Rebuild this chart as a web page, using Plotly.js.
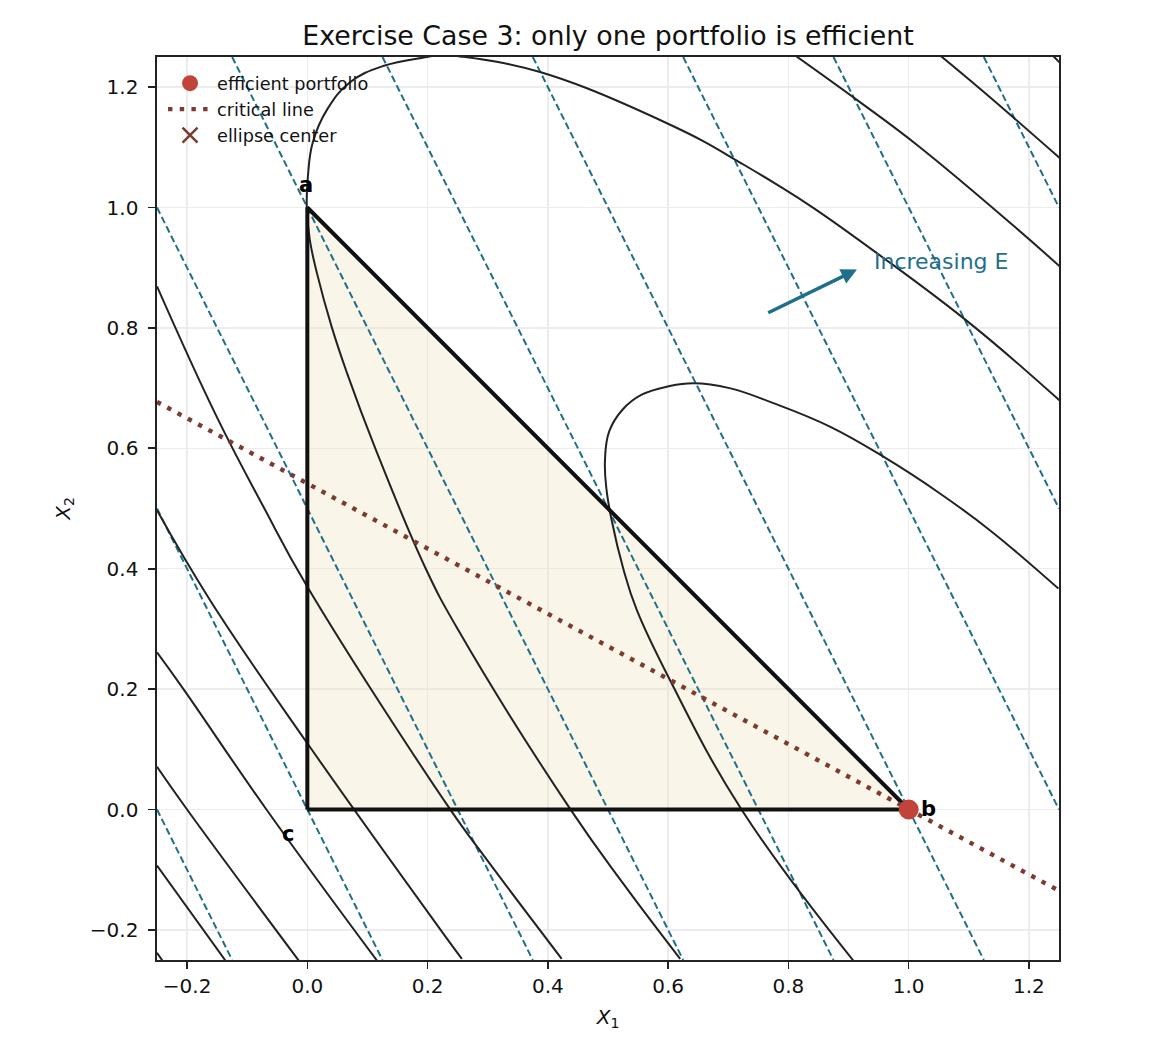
<!DOCTYPE html>
<html>
<head>
<meta charset="utf-8">
<script src="https://cdn.plot.ly/plotly-3.0.1.min.js"></script>
<style>
  html, body { margin: 0; padding: 0; background: #ffffff; }
  #chart { width: 1152px; height: 1056px; }
</style>
</head>
<body>
<div id="chart"></div>
<script>
// Tick labels
var tickVals = [-0.2, 0.0, 0.2, 0.4, 0.6, 0.8, 1.0, 1.2];
var tickText = ['\u22120.2', '0.0', '0.2', '0.4', '0.6', '0.8', '1.0', '1.2'];

// Feasible set (triangle a-b-c)
var triangleX = [0, 1, 0, 0];
var triangleY = [0, 0, 1, 0];

// Iso-E lines (dashed), read at the edges of the plot
var isoStartX = [-0.25, -0.25, -0.25, -0.125, 0.125, 0.375, 0.625, 0.875, 1.125];
var isoStartY = [0.0, 0.5, 1.0, 1.25, 1.25, 1.25, 1.25, 1.25, 1.25];
var isoEndX = [-0.125, 0.125, 0.375, 0.625, 0.875, 1.125, 1.25, 1.25, 1.25];
var isoEndY = [-0.25, -0.25, -0.25, -0.25, -0.25, -0.25, 0.0, 0.5, 1.0];

// Iso-variance curves, points
var curve1X = [-0.25, -0.239];
var curve1Y = [-0.238, -0.254];
var curve2X = [-0.25, -0.134];
var curve2Y = [-0.093, -0.254];
var curve3X = [-0.25, -0.200, -0.012];
var curve3Y = [0.071, 0.0, -0.254];
var curve4X = [-0.25, -0.206, -0.068, 0.118];
var curve4Y = [0.261, 0.2, 0.0, -0.254];
var curve5X = [-0.25, -0.162, 0.0, 0.221, 0.257];
var curve5Y = [0.497, 0.348, 0.110, -0.199, -0.248];
var curve6X = [-0.25, -0.151, -0.073, 0.0, 0.237, 0.287, 0.423];
var curve6Y = [0.869, 0.653, 0.503, 0.370, 0.001, -0.068, -0.248];
var outerX = [0.620, 0.526, 0.437, 0.251, 0.197, 0.113, 0.066, 0.041, 0.016, 0.004, -0.001,
              0.001, 0.009, 0.033, 0.071, 0.126, 0.199, 0.225, 0.254, 0.326, 0.387, 0.465, 0.598,
              0.659, 0.714, 0.781, 0.842, 0.946, 1.105, 1.257];
var outerY = [-0.248, -0.124, 0.001, 0.298, 0.400, 0.600, 0.725, 0.800, 0.891, 0.947, 1.002,
              1.052, 1.108, 1.163, 1.208, 1.235, 1.250, 1.254, 1.251, 1.240, 1.225, 1.198, 1.140,
              1.110, 1.078, 1.038, 0.999, 0.925, 0.805, 0.674];
var innerX = [0.908, 0.722, 0.603, 0.548, 0.526, 0.506, 0.497, 0.495, 0.502, 0.524, 0.556, 0.601,
              0.642, 0.702, 0.775, 0.869, 0.958, 1.052, 1.135, 1.249];
var innerY = [-0.251, 0.0, 0.215, 0.331, 0.398, 0.481, 0.536, 0.581, 0.628, 0.664, 0.689, 0.703,
              0.708, 0.700, 0.675, 0.636, 0.586, 0.525, 0.464, 0.367];
var upper1X = [0.812, 0.919, 1.015, 1.174, 1.257];
var upper1Y = [1.252, 1.175, 1.103, 0.970, 0.897];
var upper2X = [1.053, 1.126, 1.257];
var upper2Y = [1.252, 1.191, 1.077];
var upper3X = [1.240, 1.257];
var upper3Y = [1.252, 1.235];

// Critical line, efficient portfolio, ellipse center (off the visible area)
var criticalX = [-0.25, 1.25];
var criticalY = [0.677, -0.135];
var efficientX = [1.0];
var efficientY = [0.0];
var centerX = [1.36];
var centerY = [-0.195];

var TEAL = '#1f6f8b';
var BROWN = '#7b3b2e';
var RED = '#c0443a';
var FONT = 'DejaVu Sans, Liberation Sans, sans-serif';

var data = [];

data.push({
    x: triangleX, y: triangleY,
    mode: 'lines', fill: 'toself',
    fillcolor: 'rgba(235, 222, 180, 0.3)',
    line: { width: 0 },
    showlegend: false, hoverinfo: 'skip'
});

// join the iso-E segments into one trace separated by gaps
var isoX = [], isoY = [];
for (var i = 0; i < isoStartX.length; i++) {
    isoX.push(isoStartX[i], isoEndX[i], null);
    isoY.push(isoStartY[i], isoEndY[i], null);
}
data.push({
    x: isoX, y: isoY, mode: 'lines',
    line: { color: TEAL, width: 2, dash: '7px,3.5px' },
    showlegend: false, hoverinfo: 'skip'
});

var curves = [
    [curve1X, curve1Y], [curve2X, curve2Y], [curve3X, curve3Y], [curve4X, curve4Y],
    [curve5X, curve5Y], [curve6X, curve6Y], [outerX, outerY], [innerX, innerY],
    [upper1X, upper1Y], [upper2X, upper2Y], [upper3X, upper3Y]
];
curves.forEach(function (c) {
    data.push({
        x: c[0], y: c[1], mode: 'lines',
        line: { color: '#222222', width: 2, shape: 'spline', smoothing: 1.2 },
        showlegend: false, hoverinfo: 'skip'
    });
});

data.push({
    x: triangleX, y: triangleY, mode: 'lines',
    line: { color: '#111111', width: 4 },
    showlegend: false, hoverinfo: 'skip'
});

data.push({
    x: criticalX, y: criticalY, mode: 'lines', name: 'critical line',
    line: { color: BROWN, width: 4.4, dash: '4.4px,7.3px' },
    legendrank: 2
});

data.push({
    x: efficientX, y: efficientY, mode: 'markers', name: 'efficient portfolio',
    marker: { color: RED, size: 20 },
    legendrank: 1
});

data.push({
    x: centerX, y: centerY, mode: 'markers', name: 'ellipse center',
    marker: { symbol: 'x-thin', size: 15, color: BROWN, line: { color: BROWN, width: 2.5 } },
    legendrank: 3
});

var axisStyle = {
    range: [-0.25, 1.25],
    tickvals: tickVals,
    ticktext: tickText,
    ticks: 'outside',
    ticklen: 7,
    tickwidth: 1.6,
    tickcolor: '#222222',
    tickfont: { family: FONT, size: 20, color: '#111111' },
    showline: true,
    mirror: true,
    linecolor: '#222222',
    linewidth: 1.6,
    showgrid: true,
    gridcolor: '#ececec',
    gridwidth: 1.5,
    zeroline: false,
    fixedrange: true
};

var layout = {
    width: 1152,
    height: 1056,
    paper_bgcolor: '#ffffff',
    plot_bgcolor: '#ffffff',
    margin: { l: 157, r: 93, t: 57, b: 96 },
    font: { family: FONT, color: '#111111' },
    title: {
        text: 'Exercise Case 3: only one portfolio is efficient',
        font: { family: FONT, size: 26.8, color: '#111111' },
        x: 0.5, xref: 'paper', xanchor: 'center',
        y: 1 - 36 / 1056, yref: 'container', yanchor: 'middle'
    },
    xaxis: Object.assign({}, axisStyle, {
        title: { text: '<i>X</i><sub>1</sub>', font: { family: FONT, size: 20, color: '#111111' }, standoff: 13 }
    }),
    yaxis: Object.assign({}, axisStyle, {
        ticklabelstandoff: 6,
        title: { text: '<i>X</i><sub>2</sub>', font: { family: FONT, size: 20, color: '#111111' }, standoff: 14 }
    }),
    showlegend: true,
    legend: {
        x: 0.0067, y: 0.991, xanchor: 'left', yanchor: 'top',
        bgcolor: 'rgba(0,0,0,0)',
        borderwidth: 0,
        itemwidth: 44,
        font: { family: FONT, size: 17.7, color: '#111111' },
        traceorder: 'normal'
    },
    annotations: [
        { x: -0.003, y: 1.038, text: '<b>a</b>', showarrow: false, xanchor: 'center', yanchor: 'middle',
          font: { family: FONT, size: 21, color: '#000000' } },
        { x: 1.033, y: 0.001, text: '<b>b</b>', showarrow: false, xanchor: 'center', yanchor: 'middle',
          font: { family: FONT, size: 21, color: '#000000' } },
        { x: -0.032, y: -0.041, text: '<b>c</b>', showarrow: false, xanchor: 'center', yanchor: 'middle',
          font: { family: FONT, size: 21, color: '#000000' } },
        { x: 0.914, y: 0.897, ax: 0.764, ay: 0.824, axref: 'x', ayref: 'y', text: '',
          showarrow: true, arrowhead: 2, arrowsize: 0.9, arrowwidth: 3.5, arrowcolor: TEAL },
        { x: 0.939, y: 0.91, text: 'Increasing E', showarrow: false, xanchor: 'left', yanchor: 'middle',
          font: { family: FONT, size: 22, color: TEAL } }
    ]
};

Plotly.newPlot('chart', data, layout, { displayModeBar: false, staticPlot: true });
</script>
</body>
</html>
